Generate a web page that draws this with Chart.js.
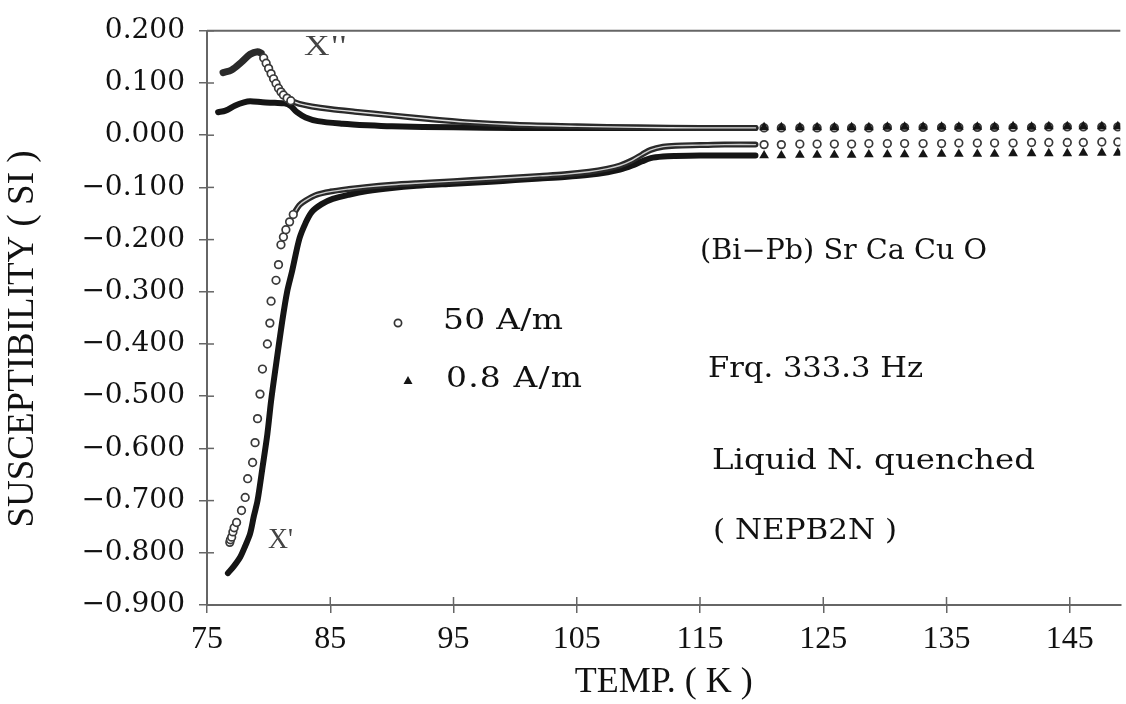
<!DOCTYPE html>
<html><head><meta charset="utf-8">
<script src="https://cdn.jsdelivr.net/npm/chart.js@4.4.0/dist/chart.umd.min.js"></script>
<style>html,body{margin:0;padding:0;background:#fff}#wrap{width:1126px;height:704px}</style>
</head><body><div id="wrap"><canvas id="c" width="1126" height="704"></canvas></div>
<script>
// ---- tick values ----
const xTickValues = [75, 85, 95, 105, 115, 125, 135, 145];
const yTickValues = [0.2, 0.1, 0, -0.1, -0.2, -0.3, -0.4, -0.5, -0.6, -0.7, -0.8, -0.9];
const legendLabels = ['50 A/m', '0.8 A/m'];
const yTitle = 'SUSCEPTIBILITY ( SI )';
const xTitle = 'TEMP. ( K )';

// ---- sparse tail temperatures (K) ----
const tempTail = [120.2,121.6,123.1,124.5,125.9,127.3,128.7,130.2,131.6,133.1,134.6,136.0,137.5,138.9,140.4,141.9,143.3,144.8,146.1,147.6,148.9];

// ---- X' (real part), 50 A/m : open circles ----
const realCircStepT = [76.85,76.9,77.0,77.1,77.2,77.4,77.8,78.1,78.3,78.7,78.9,79.1,79.3,79.5,79.9,80.1,80.2,80.6,80.8,81.0,81.2,81.4,81.7,82.0];
const realCircStepV = [-0.780,-0.775,-0.770,-0.760,-0.752,-0.742,-0.719,-0.694,-0.658,-0.627,-0.589,-0.543,-0.496,-0.448,-0.400,-0.360,-0.318,-0.278,-0.248,-0.210,-0.195,-0.181,-0.166,-0.152];
const realCircBandT = [82.0,82.5,83.0,83.9,85,86.5,88,90,92,95,98,100,102,104,106,107.5,108.5,109.5,110.3,111,112,113,115,117,119.5];
const realCircBandV = [-0.152,-0.134,-0.125,-0.114,-0.108,-0.103,-0.099,-0.095,-0.092,-0.088,-0.084,-0.081,-0.078,-0.075,-0.070,-0.064,-0.058,-0.048,-0.037,-0.028,-0.022,-0.020,-0.019,-0.018,-0.018];
const realCircTailV = [-0.018,-0.018,-0.017,-0.017,-0.017,-0.017,-0.016,-0.016,-0.016,-0.016,-0.016,-0.015,-0.015,-0.015,-0.015,-0.014,-0.014,-0.014,-0.014,-0.013,-0.013];

// ---- X' (real part), 0.8 A/m : filled triangles ----
const realTriBandT = [76.7,77.2,77.7,78.1,78.5,78.8,79.1,79.5,79.9,80.2,80.6,81.1,81.5,81.9,82.5,83.0,83.5,84.3,85.2,86.5,88,90,92,95,98,100,102,104,106,107.5,108.5,109.5,110.3,111,112,113,115,117,119.5];
const realTriBandV = [-0.839,-0.825,-0.808,-0.787,-0.763,-0.730,-0.700,-0.637,-0.572,-0.509,-0.440,-0.357,-0.300,-0.261,-0.198,-0.168,-0.147,-0.132,-0.122,-0.114,-0.107,-0.101,-0.097,-0.093,-0.089,-0.086,-0.083,-0.080,-0.076,-0.071,-0.066,-0.058,-0.050,-0.044,-0.041,-0.040,-0.039,-0.039,-0.039];
const realTriTailV = [-0.039,-0.039,-0.038,-0.038,-0.038,-0.038,-0.037,-0.037,-0.037,-0.037,-0.036,-0.036,-0.036,-0.036,-0.035,-0.035,-0.035,-0.035,-0.034,-0.034,-0.034];

// ---- X'' (imaginary part), 50 A/m : open circles ----
const imagCircRiseT = [76.3,77.0,77.8,78.5,79.1,79.4];
const imagCircRiseV = [0.120,0.125,0.140,0.155,0.160,0.157];
const imagCircDropT = [79.6,79.8,80.0,80.2,80.4,80.6,80.8,81.0,81.2,81.5,81.8];
const imagCircDropV = [0.148,0.138,0.128,0.118,0.108,0.099,0.090,0.083,0.077,0.071,0.066];
const imagCircBandT = [81.8,82.5,83.5,85,87,90,93,96,100,105,110,115,119.5];
const imagCircBandV = [0.066,0.060,0.055,0.050,0.045,0.038,0.031,0.025,0.020,0.017,0.015,0.014,0.014];
const imagCircTailV = [0.014,0.014,0.014,0.014,0.014,0.014,0.014,0.015,0.015,0.015,0.015,0.015,0.015,0.015,0.015,0.015,0.016,0.016,0.016,0.016,0.016];

// ---- X'' (imaginary part), 0.8 A/m : filled triangles ----
const imagTriBandT = [75.9,76.5,77.3,78.0,78.5,79.5,80.5,81.3,81.8,82.3,83,84,86,88,90,95,100,110,119.5];
const imagTriBandV = [0.044,0.047,0.057,0.063,0.065,0.063,0.062,0.061,0.056,0.044,0.034,0.027,0.022,0.019,0.017,0.015,0.014,0.014,0.014];
const imagTriTailV = [0.015,0.015,0.015,0.015,0.015,0.015,0.015,0.016,0.016,0.016,0.016,0.016,0.016,0.016,0.017,0.016,0.017,0.017,0.017,0.017,0.017];

function pts(T, V) { return T.map((t, i) => ({ x: t, y: V[i] })); }

const INK = '#151515';
const circleMarks = { showLine: false, pointStyle: 'circle', pointRadius: 3.8, borderWidth: 1.7, pointBorderColor: '#3a3a3a', pointBackgroundColor: '#fff' };
const triMarks = { showLine: false, pointStyle: 'triangle', pointRadius: 5.6, pointBorderWidth: 0, pointBorderColor: INK, pointBackgroundColor: INK };
const band = (w, c) => ({ showLine: true, pointRadius: 0, borderWidth: w, borderColor: c, tension: 0.3, borderCapStyle: 'round', borderJoinStyle: 'round', fill: false });

const datasets = [
  Object.assign({ label: legendLabels[1] + ' X\'\' tail', data: pts(tempTail, imagTriTailV) }, triMarks),
  Object.assign({ label: legendLabels[0] + ' X\'\' tail', data: pts(tempTail, imagCircTailV) }, circleMarks),
  Object.assign({ label: legendLabels[0] + ' X\'\' drop', data: pts(imagCircDropT, imagCircDropV) }, circleMarks),
  Object.assign({ label: legendLabels[0] + ' X\' step', data: pts(realCircStepT, realCircStepV) }, circleMarks),
  Object.assign({ label: legendLabels[0] + ' X\' tail', data: pts(tempTail, realCircTailV) }, circleMarks),
  Object.assign({ label: legendLabels[1] + ' X\' tail', data: pts(tempTail, realTriTailV) }, triMarks),
  Object.assign({ label: legendLabels[0] + ' X\'\' band in', data: pts(imagCircBandT, imagCircBandV) }, band(1.4, '#ddd')),
  Object.assign({ label: legendLabels[0] + ' X\'\' band', data: pts(imagCircBandT, imagCircBandV) }, band(6, '#2a2a2a')),
  Object.assign({ label: legendLabels[0] + ' X\'\' rise', data: pts(imagCircRiseT, imagCircRiseV) }, band(7, '#2a2a2a')),
  Object.assign({ label: legendLabels[0] + ' X\' band in', data: pts(realCircBandT, realCircBandV) }, band(1.4, '#ccc')),
  Object.assign({ label: legendLabels[0] + ' X\' band', data: pts(realCircBandT, realCircBandV) }, band(6, '#2a2a2a')),
  Object.assign({ label: legendLabels[1] + ' X\' band', data: pts(realTriBandT, realTriBandV) }, band(6, INK)),
  Object.assign({ label: legendLabels[1] + ' X\'\' band', data: pts(imagTriBandT, imagTriBandV) }, band(6, INK))
];

const SERIF = '"DejaVu Serif"';
const notes = [
  { text: '(Bi\u2212Pb) Sr Ca Cu O', x: 700, y: 252, w: 287, size: 27 },
  { text: 'Frq. 333.3 Hz', x: 708, y: 370, w: 215, size: 27 },
  { text: 'Liquid N. quenched', x: 712, y: 462, w: 323, size: 27 },
  { text: '( NEPB2N )', x: 713, y: 532, w: 184, size: 27 },
  { text: 'X\'\'', x: 304, y: 47, w: 42, size: 29, family: '"Liberation Serif"', color: '#444' },
  { text: 'X\'', x: 268, y: 540, w: 25, size: 29, family: '"Liberation Serif"', color: '#444' },
  { text: legendLabels[0], x: 443, y: 322, w: 120, size: 27 },
  { text: legendLabels[1], x: 446, y: 380, w: 136, size: 27 }
];

function fitText(ctx, n) {
  ctx.font = n.size + 'px ' + (n.family || SERIF);
  try { ctx.letterSpacing = '0px'; } catch (e) {}
  const m = ctx.measureText(n.text).width;
  const k = [...n.text].length;
  const sx = Math.min(1.22, Math.max(0.8, n.w / m));
  const rest = n.w / sx - m;
  const ls = Math.max(-2, rest / Math.max(1, k - 1));
  try { ctx.letterSpacing = ls + 'px'; } catch (e) {}
  ctx.save();
  ctx.translate(n.x, n.y);
  ctx.scale(sx, 1);
  ctx.fillStyle = n.color || '#111';
  ctx.textAlign = 'left';
  ctx.textBaseline = 'middle';
  ctx.fillText(n.text, 0, 0);
  ctx.restore();
  try { ctx.letterSpacing = '0px'; } catch (e) {}
}

const deco = {
  id: 'deco',
  afterDraw(chart) {
    const { ctx, chartArea: a, scales: { x, y } } = chart;
    ctx.save();
    ctx.strokeStyle = '#666';
    ctx.lineWidth = 2;
    ctx.beginPath(); ctx.moveTo(a.left, a.top); ctx.lineTo(a.right, a.top); ctx.stroke();
    ctx.lineWidth = 1.5;
    yTickValues.forEach(v => { const p = y.getPixelForValue(v); ctx.beginPath(); ctx.moveTo(a.left, p); ctx.lineTo(a.left + 7, p); ctx.stroke(); });
    xTickValues.forEach(v => { const p = x.getPixelForValue(v); ctx.beginPath(); ctx.moveTo(p, a.bottom); ctx.lineTo(p, a.bottom - 8); ctx.stroke(); });
    notes.forEach(n => fitText(ctx, n));
    // y axis title
    ctx.save();
    ctx.translate(23, 339);
    ctx.rotate(-Math.PI / 2);
    ctx.font = '37px "Liberation Serif"';
    ctx.fillStyle = '#111';
    ctx.textAlign = 'center';
    ctx.textBaseline = 'middle';
    ctx.fillText(yTitle, 0, 0);
    ctx.restore();
    // legend markers
    const lc = { px: 398, py: 323 }, lt = { px: 408, py: 381 };
    ctx.strokeStyle = '#333'; ctx.lineWidth = 1.7; ctx.fillStyle = '#fff';
    ctx.beginPath(); ctx.arc(lc.px, lc.py, 3.6, 0, Math.PI * 2); ctx.fill(); ctx.stroke();
    ctx.fillStyle = INK;
    ctx.beginPath(); ctx.moveTo(lt.px, lt.py - 5); ctx.lineTo(lt.px + 4.5, lt.py + 3); ctx.lineTo(lt.px - 4.5, lt.py + 3); ctx.closePath(); ctx.fill();
    ctx.restore();
  }
};

new Chart(document.getElementById('c'), {
  type: 'scatter',
  data: { datasets },
  plugins: [deco],
  options: {
    responsive: false,
    animation: false,
    layout: { padding: { left: 0, top: 26, right: 0, bottom: 0 } },
    plugins: { legend: { display: false }, tooltip: { enabled: false } },
    scales: {
      x: {
        type: 'linear', min: 75, max: 149.1,
        afterBuildTicks: s => { s.ticks = xTickValues.map(v => ({ value: v })); },
        afterFit: s => { s.height = 99; },
        ticks: { color: '#111', font: { family: '"Liberation Serif"', size: 32 }, padding: 7, maxRotation: 0, autoSkip: false },
        grid: { drawOnChartArea: false, color: '#666', lineWidth: 1.5, tickLength: 8 },
        border: { color: '#666', width: 2 },
        title: { display: true, text: xTitle, color: '#111', font: { family: '"Liberation Serif"', size: 36 }, padding: { top: 4, bottom: 0 } }
      },
      y: {
        type: 'linear', min: -0.9, max: 0.2,
        afterBuildTicks: s => { s.ticks = yTickValues.map(v => ({ value: v })); },
        afterFit: s => { s.width = 207; },
        ticks: {
          color: '#111', font: { family: SERIF, size: 28 }, padding: 14, autoSkip: false,
          callback: v => (v < -1e-9 ? '\u2212' : '') + Math.abs(v).toFixed(3)
        },
        grid: { drawOnChartArea: false, color: '#666', lineWidth: 1.5, tickLength: 8 },
        border: { color: '#666', width: 2 },
        title: { display: false }
      }
    }
  }
});
</script></body></html>
